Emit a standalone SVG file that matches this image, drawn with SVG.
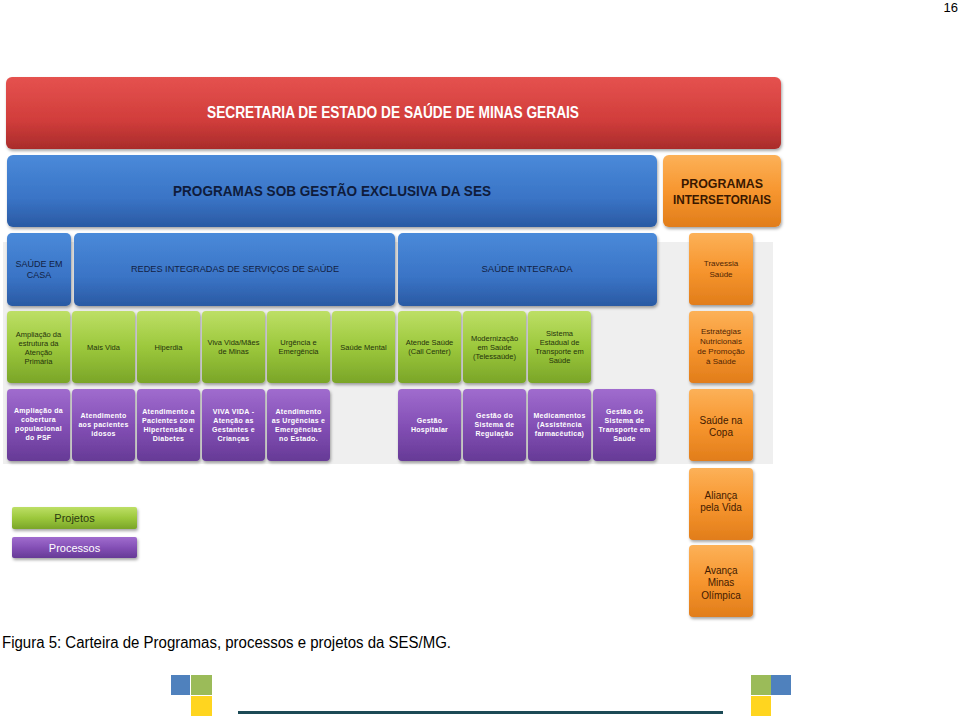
<svg xmlns="http://www.w3.org/2000/svg" width="960" height="718" viewBox="0 0 960 718">
<style>
text{font-family:"Liberation Sans",Arial,sans-serif;text-anchor:middle}
.g{fill:url(#gG)}
.p{fill:url(#gP)}
.o{fill:url(#gO)}
.b{fill:url(#gB)}
.bx{filter:url(#sh)}
.tg{font-size:7.5px;fill:#25330c}
.tp{font-size:7px;font-weight:bold;fill:#fff;letter-spacing:0.3px}
.to{font-size:8px;fill:#4f2404}
.tob{font-size:10px;fill:#431a00}
.tb{font-size:9px;fill:#122244}
</style>
<defs>
<linearGradient id="gR" x1="0" y1="0" x2="0" y2="1"><stop offset="0" stop-color="#e5524f"/><stop offset="0.6" stop-color="#d13d3b"/><stop offset="1" stop-color="#a92c2b"/></linearGradient>
<linearGradient id="gB" x1="0" y1="0" x2="0" y2="1"><stop offset="0" stop-color="#4a8ad9"/><stop offset="0.6" stop-color="#3a74c6"/><stop offset="1" stop-color="#2a5aa3"/></linearGradient>
<linearGradient id="gG" x1="0" y1="0" x2="0" y2="1"><stop offset="0" stop-color="#bddf66"/><stop offset="0.5" stop-color="#9cc83c"/><stop offset="1" stop-color="#7aa528"/></linearGradient>
<linearGradient id="gP" x1="0" y1="0" x2="0" y2="1"><stop offset="0" stop-color="#a06cce"/><stop offset="0.5" stop-color="#8450b6"/><stop offset="1" stop-color="#663a96"/></linearGradient>
<linearGradient id="gO" x1="0" y1="0" x2="0" y2="1"><stop offset="0" stop-color="#fcb158"/><stop offset="0.5" stop-color="#f7962f"/><stop offset="1" stop-color="#e17d1a"/></linearGradient>
<filter id="sh" x="-10%" y="-10%" width="130%" height="140%"><feDropShadow dx="1" dy="2" stdDeviation="1.5" flood-color="#000" flood-opacity="0.35"/></filter>
</defs>
<rect width="960" height="718" fill="#fff"/>
<text x="958" y="12" style="font-size:13px;text-anchor:end;fill:#000">16</text>
<rect x="3" y="242" width="770" height="222" fill="#efefef"/>

<g id="header">
<rect class="bx" x="6" y="77" width="775" height="72" rx="6" fill="url(#gR)"/>
<text x="393" y="118" style="font-size:16px;font-weight:bold;fill:#fff" textLength="372" lengthAdjust="spacingAndGlyphs">SECRETARIA DE ESTADO DE SAÚDE DE MINAS GERAIS</text>
</g>
<g id="exclusiva">
<rect class="bx b" x="7" y="155" width="650" height="72" rx="6"/>
<text x="332" y="196" style="font-size:15.5px;font-weight:bold;fill:#0f1c3c" textLength="318" lengthAdjust="spacingAndGlyphs">PROGRAMAS SOB GESTÃO EXCLUSIVA DA SES</text>
</g>
<g id="intersetoriais">
<rect class="bx o" x="663" y="155" width="118" height="72" rx="6"/>
<text x="722" y="188" style="font-size:12.5px;font-weight:bold;fill:#3a1800" textLength="82" lengthAdjust="spacingAndGlyphs">PROGRAMAS</text>
<text x="722" y="204" style="font-size:12.5px;font-weight:bold;fill:#3a1800" textLength="98" lengthAdjust="spacingAndGlyphs">INTERSETORIAIS</text>
</g>

<g id="saude-em-casa">
<rect class="bx b" x="7" y="233" width="64" height="73" rx="5"/>
<text class="tb" x="39" y="267">SAÚDE EM</text>
<text class="tb" x="39" y="278">CASA</text>
</g>
<g id="redes">
<rect class="bx b" x="74" y="233" width="321" height="73" rx="5"/>
<text class="tb" x="235" y="272" textLength="208" lengthAdjust="spacingAndGlyphs">REDES INTEGRADAS DE SERVIÇOS DE SAÚDE</text>
</g>
<g id="saude-integrada">
<rect class="bx b" x="398" y="233" width="259" height="73" rx="5"/>
<text class="tb" x="527" y="272" textLength="91" lengthAdjust="spacingAndGlyphs">SAÚDE INTEGRADA</text>
</g>

<g id="g1"><rect class="bx g" x="7" y="311" width="63" height="72" rx="4"/>
<text class="tg" x="38.5" y="337">Ampliação da</text><text class="tg" x="38.5" y="346">estrutura da</text><text class="tg" x="38.5" y="355">Atenção</text><text class="tg" x="38.5" y="364">Primária</text></g>
<g id="g2"><rect class="bx g" x="72" y="311" width="63" height="72" rx="4"/>
<text class="tg" x="103.5" y="350">Mais Vida</text></g>
<g id="g3"><rect class="bx g" x="137" y="311" width="63" height="72" rx="4"/>
<text class="tg" x="168.5" y="350">Hiperdia</text></g>
<g id="g4"><rect class="bx g" x="202" y="311" width="63" height="72" rx="4"/>
<text class="tg" x="233.5" y="345">Viva Vida/Mães</text><text class="tg" x="233.5" y="354">de Minas</text></g>
<g id="g5"><rect class="bx g" x="267" y="311" width="63" height="72" rx="4"/>
<text class="tg" x="298.5" y="345">Urgência e</text><text class="tg" x="298.5" y="354">Emergência</text></g>
<g id="g6"><rect class="bx g" x="332" y="311" width="63" height="72" rx="4"/>
<text class="tg" x="363.5" y="350">Saúde Mental</text></g>
<g id="g7"><rect class="bx g" x="398" y="311" width="63" height="72" rx="4"/>
<text class="tg" x="429.5" y="345">Atende Saúde</text><text class="tg" x="429.5" y="354">(Call Center)</text></g>
<g id="g8"><rect class="bx g" x="463" y="311" width="63" height="72" rx="4"/>
<text class="tg" x="494.5" y="341">Modernização</text><text class="tg" x="494.5" y="350">em Saúde</text><text class="tg" x="494.5" y="359">(Telessaúde)</text></g>
<g id="g9"><rect class="bx g" x="528" y="311" width="63" height="72" rx="4"/>
<text class="tg" x="559.5" y="336">Sistema</text><text class="tg" x="559.5" y="345">Estadual de</text><text class="tg" x="559.5" y="354">Transporte em</text><text class="tg" x="559.5" y="363">Saúde</text></g>

<g id="p1"><rect class="bx p" x="7" y="389" width="63" height="72" rx="4"/>
<text class="tp" x="38.5" y="413">Ampliação da</text><text class="tp" x="38.5" y="422">cobertura</text><text class="tp" x="38.5" y="431">populacional</text><text class="tp" x="38.5" y="440">do PSF</text></g>
<g id="p2"><rect class="bx p" x="72" y="389" width="63" height="72" rx="4"/>
<text class="tp" x="103.5" y="418">Atendimento</text><text class="tp" x="103.5" y="427">aos pacientes</text><text class="tp" x="103.5" y="436">idosos</text></g>
<g id="p3"><rect class="bx p" x="137" y="389" width="63" height="72" rx="4"/>
<text class="tp" x="168.5" y="414">Atendimento a</text><text class="tp" x="168.5" y="423">Pacientes com</text><text class="tp" x="168.5" y="432">Hipertensão e</text><text class="tp" x="168.5" y="441">Diabetes</text></g>
<g id="p4"><rect class="bx p" x="202" y="389" width="63" height="72" rx="4"/>
<text class="tp" x="233.5" y="414">VIVA VIDA -</text><text class="tp" x="233.5" y="423">Atenção as</text><text class="tp" x="233.5" y="432">Gestantes e</text><text class="tp" x="233.5" y="441">Crianças</text></g>
<g id="p5"><rect class="bx p" x="267" y="389" width="63" height="72" rx="4"/>
<text class="tp" x="298.5" y="414">Atendimento</text><text class="tp" x="298.5" y="423">as Urgências e</text><text class="tp" x="298.5" y="432">Emergências</text><text class="tp" x="298.5" y="441">no Estado.</text></g>
<g id="p6"><rect class="bx p" x="398" y="389" width="63" height="72" rx="4"/>
<text class="tp" x="429.5" y="423">Gestão</text><text class="tp" x="429.5" y="432">Hospitalar</text></g>
<g id="p7"><rect class="bx p" x="463" y="389" width="63" height="72" rx="4"/>
<text class="tp" x="494.5" y="418">Gestão do</text><text class="tp" x="494.5" y="427">Sistema de</text><text class="tp" x="494.5" y="436">Regulação</text></g>
<g id="p8"><rect class="bx p" x="528" y="389" width="63" height="72" rx="4"/>
<text class="tp" x="559.5" y="418">Medicamentos</text><text class="tp" x="559.5" y="427">(Assistência</text><text class="tp" x="559.5" y="436">farmacêutica)</text></g>
<g id="p9"><rect class="bx p" x="593" y="389" width="63" height="72" rx="4"/>
<text class="tp" x="624.5" y="414">Gestão do</text><text class="tp" x="624.5" y="423">Sistema de</text><text class="tp" x="624.5" y="432">Transporte em</text><text class="tp" x="624.5" y="441">Saúde</text></g>

<g id="o1"><rect class="bx o" x="689" y="233" width="64" height="72" rx="4"/>
<text class="to" x="721" y="266">Travessia</text><text class="to" x="721" y="277">Saúde</text></g>
<g id="o2"><rect class="bx o" x="689" y="311" width="64" height="72" rx="4"/>
<text class="to" x="721" y="334">Estratégias</text><text class="to" x="721" y="344">Nutricionais</text><text class="to" x="721" y="354">de Promoção</text><text class="to" x="721" y="364">à Saúde</text></g>
<g id="o3"><rect class="bx o" x="689" y="389" width="64" height="72" rx="4"/>
<text class="tob" x="721" y="424">Saúde na</text><text class="tob" x="721" y="436">Copa</text></g>
<g id="o4"><rect class="bx o" x="689" y="468" width="64" height="72" rx="4"/>
<text class="tob" x="721" y="499">Aliança</text><text class="tob" x="721" y="511">pela Vida</text></g>
<g id="o5"><rect class="bx o" x="689" y="545" width="64" height="72" rx="4"/>
<text class="tob" x="721" y="574">Avança</text><text class="tob" x="721" y="586">Minas</text><text class="tob" x="721" y="599">Olímpica</text></g>

<g id="legend-projetos"><rect class="bx g" x="12" y="507" width="125" height="22" rx="2"/>
<text x="74.5" y="522" style="font-size:11px;fill:#2b3a10">Projetos</text></g>
<g id="legend-processos"><rect class="bx p" x="12" y="537" width="125" height="21" rx="2"/>
<text x="74.5" y="551.5" style="font-size:11px;fill:#fff">Processos</text></g>

<text x="2" y="648" style="font-size:16px;text-anchor:start;fill:#000" textLength="449" lengthAdjust="spacingAndGlyphs">Figura 5: Carteira de Programas, processos e projetos da SES/MG.</text>

<rect x="171" y="675" width="19" height="20" fill="#4f81bd"/>
<rect x="191" y="675" width="21" height="20" fill="#9bbb59"/>
<rect x="191" y="696" width="21" height="20" fill="#ffd51f"/>
<rect x="238" y="711" width="485" height="3" fill="#1c4a56"/>
<rect x="751" y="675" width="20" height="20" fill="#9bbb59"/>
<rect x="771" y="675" width="20" height="20" fill="#4f81bd"/>
<rect x="751" y="696" width="20" height="20" fill="#ffd51f"/>
</svg>
